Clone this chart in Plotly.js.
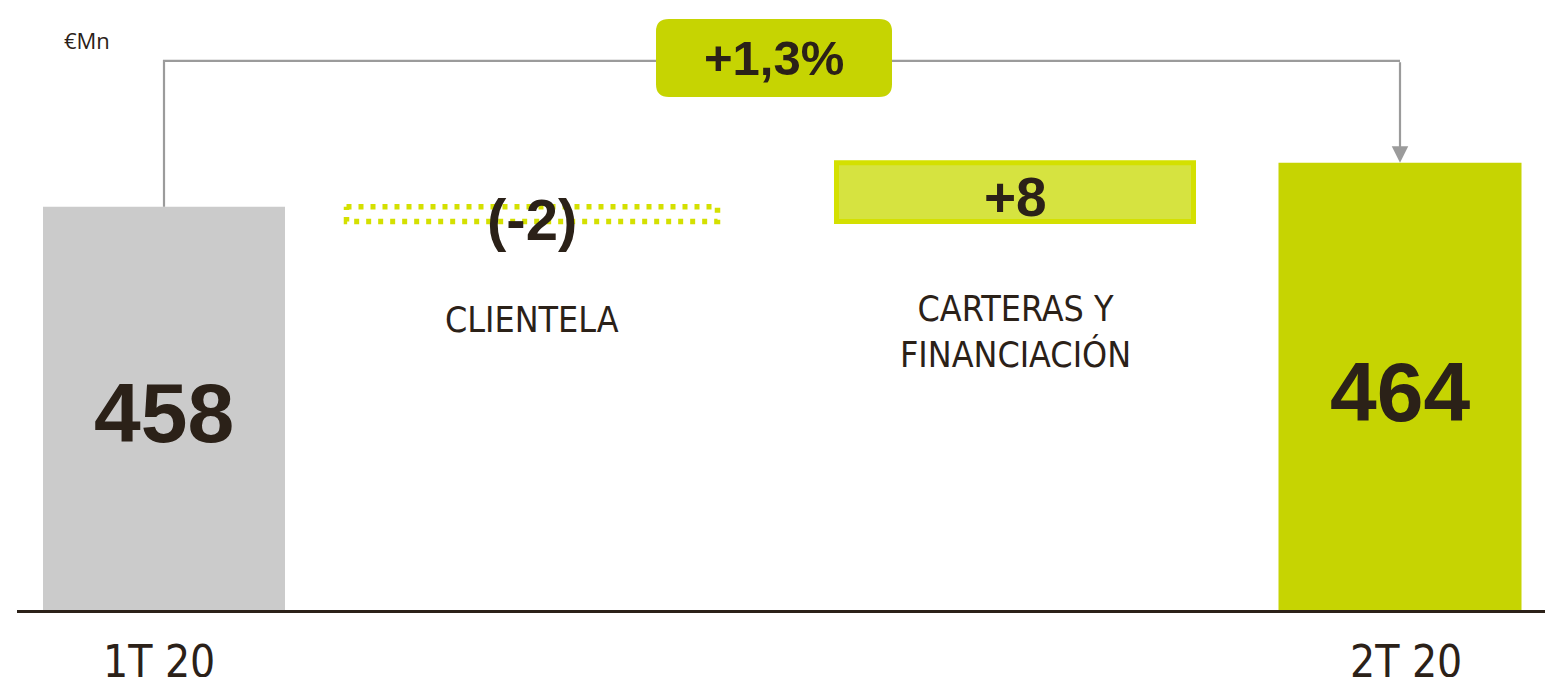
<!DOCTYPE html>
<html>
<head>
<meta charset="utf-8">
<script src="https://cdn.plot.ly/plotly-3.0.1.min.js"></script>
<style>
  html, body { margin: 0; padding: 0; background: #ffffff; }
  #chart { width: 1545px; height: 677px; }
</style>
</head>
<body>
<div id="chart"></div>
<script>
// ---- data ----
const categories = ['1T 20', 'CLIENTELA', 'CARTERAS Y<br>FINANCIACIÓN', '2T 20'];
const values = [458, -2, 8, 464];          // start total, deltas, end total
const valueLabels = ['458', '(-2)', '+8', '464'];
const changeLabel = '+1,3%';
const unitLabel = '€Mn';

// ---- layout constants (positions / sizes / styles) ----
const xPos = [1.47, 5.15, 9.98, 13.83];
const widths = [2.42, 3.71, 3.57, 2.43];
const yMin = 403, yMax = 486.2;
const bridgeY = 477.9;
const dark = '#2b2118';
const grey = '#cbcbcb';
const green = '#c6d402';
const lime = '#d4e000';
const limeFill = '#d6e340';
const connGrey = '#9b9b9b';
const narrow = '"DejaVu Sans Condensed", "Liberation Sans Narrow", "Liberation Sans", sans-serif';
const boldFont = '"Liberation Sans", Arial, sans-serif';
const plotH = 610, plotW = 1528, marginL = 17;
const py = px => 1 - px / plotH;   // pixel row -> paper y

// running totals
const start = values[0];
const afterClient = start + values[1];
const afterCart = afterClient + values[2];

const traces = [];
traces.push({type: 'bar', x: [xPos[0]], y: [values[0]], width: [widths[0]],
  marker: {color: grey}, hoverinfo: 'skip', showlegend: false});
traces.push({type: 'bar', x: [xPos[3]], y: [values[3]], width: [widths[3]],
  marker: {color: green}, hoverinfo: 'skip', showlegend: false});
traces.push({type: 'bar', x: [xPos[2]], y: [values[2]], base: [afterClient], width: [widths[2]],
  marker: {color: limeFill, line: {color: lime, width: 5}}, hoverinfo: 'skip', showlegend: false});
const cx0 = xPos[1] - widths[1] / 2, cx1 = xPos[1] + widths[1] / 2;
traces.push({type: 'scatter', mode: 'lines',
  x: [cx0, cx1, cx1, cx0, cx0], y: [start, start, afterClient, afterClient, start],
  line: {color: lime, width: 5.5, dash: '5px,7px'}, hoverinfo: 'skip', showlegend: false});
traces.push({type: 'scatter', mode: 'lines',
  x: [xPos[0], xPos[0], xPos[3]], y: [start, bridgeY, bridgeY],
  line: {color: connGrey, width: 2.2}, hoverinfo: 'skip', showlegend: false});

const bx0 = 6.39, bx1 = 8.75, by0 = 472.97, by1 = 483.6, rx = 0.13, ry = 1.7;
const boxPath = `M${bx0+rx},${by0} L${bx1-rx},${by0} Q${bx1},${by0} ${bx1},${by0+ry} L${bx1},${by1-ry} Q${bx1},${by1} ${bx1-rx},${by1} L${bx0+rx},${by1} Q${bx0},${by1} ${bx0},${by1-ry} L${bx0},${by0+ry} Q${bx0},${by0} ${bx0+rx},${by0} Z`;

function lab(x, yPx, text, font, extra) {
  return Object.assign({x: x, y: py(yPx), xref: 'x', yref: 'paper', xanchor: 'center', yanchor: 'middle',
    text: text, showarrow: false, font: font}, extra || {});
}

const annotations = [
  {x: xPos[3], y: values[3], ax: xPos[3], ay: bridgeY, axref: 'x', ayref: 'y', xref: 'x', yref: 'y',
   showarrow: true, arrowhead: 2, arrowsize: 1.5, arrowwidth: 2.2, arrowcolor: connGrey, standoff: 0, text: ''},
  {x: (bx0 + bx1) / 2, y: (by0 + by1) / 2, xref: 'x', yref: 'y', xanchor: 'center', yanchor: 'middle',
   text: '<b>' + changeLabel + '</b>', showarrow: false, font: {family: boldFont, size: 49, color: dark}},
  lab(xPos[0], 413, '<b>' + valueLabels[0] + '</b>', {family: boldFont, size: 84, color: dark}),
  lab(xPos[3], 392, '<b>' + valueLabels[3] + '</b>', {family: boldFont, size: 84, color: dark}),
  lab(xPos[1], 220, '<b>' + valueLabels[1] + '</b>', {family: boldFont, size: 58, color: dark}),
  lab(xPos[2], 197, '<b>' + valueLabels[2] + '</b>', {family: boldFont, size: 55, color: dark}),
  lab(xPos[1], 319, categories[1], {family: narrow, size: 35.5, color: dark}),
  lab(xPos[2], 331, categories[2], {family: narrow, size: 35.5, color: dark}),
  {x: xPos[0], y: 0, xref: 'x', yref: 'paper', xanchor: 'center', yanchor: 'top', yshift: -24, xshift: -5,
   text: categories[0], showarrow: false, font: {family: narrow, size: 44, color: dark}},
  {x: xPos[3], y: 0, xref: 'x', yref: 'paper', xanchor: 'center', yanchor: 'top', yshift: -24, xshift: 6,
   text: categories[3], showarrow: false, font: {family: narrow, size: 44, color: dark}},
  {x: (62 - marginL) / plotW, y: py(40), xref: 'paper', yref: 'paper', xanchor: 'left', yanchor: 'middle',
   text: unitLabel, showarrow: false, font: {family: '"Open Sans", sans-serif', size: 22, color: dark}}
];

const layout = {
  width: 1545, height: 677,
  margin: {l: marginL, r: 0, t: 0, b: 67, pad: 0},
  paper_bgcolor: '#ffffff', plot_bgcolor: '#ffffff',
  barmode: 'overlay',
  showlegend: false,
  xaxis: {range: [0, 15.28], showgrid: false, zeroline: false, showticklabels: false,
          showline: true, linecolor: dark, linewidth: 2.5, ticks: '', fixedrange: true},
  yaxis: {range: [yMin, yMax], visible: false, showgrid: false, zeroline: false, fixedrange: true},
  shapes: [{type: 'path', xref: 'x', yref: 'y', path: boxPath, fillcolor: green,
            line: {width: 0}, layer: 'above'}],
  annotations: annotations
};

Plotly.newPlot('chart', traces, layout, {displayModeBar: false, staticPlot: true});
</script>
</body>
</html>
